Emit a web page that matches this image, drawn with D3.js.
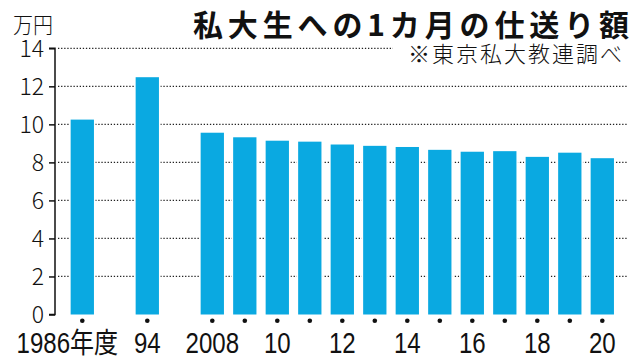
<!DOCTYPE html>
<html><head><meta charset="utf-8">
<script src="https://cdn.jsdelivr.net/npm/d3@7/dist/d3.min.js"></script>
<style>
html,body{margin:0;padding:0;background:#fff;}
svg{display:block;}
</style></head>
<body>
<svg id="chart" width="640" height="364"></svg>
<script>
// ---- data ----
const slots = ["1986","g1","1994","g2","2008","2009","2010","2011","2012","2013","2014","2015","2016","2017","2018","2019","2020"];
const years = ["1986","1994","2008","2009","2010","2011","2012","2013","2014","2015","2016","2017","2018","2019","2020"];
const values = [10.25, 12.48, 9.56, 9.32, 9.14, 9.09, 8.94, 8.87, 8.81, 8.66, 8.56, 8.59, 8.29, 8.51, 8.22];
const xLabels = [["1986","1986年度"],["1994","94"],["2008","2008"],["2010","10"],["2012","12"],["2014","14"],["2016","16"],["2018","18"],["2020","20"]];
const yTicks = [0,2,4,6,8,10,12,14];
const title = "私大生への1カ月の仕送り額";
const source = "※東京私大教連調べ";
const unit = "万円";

const svg = d3.select("#chart");
const barColor = "#0aa9e1";

const x = d3.scaleBand().domain(slots).range([61.45, 623.15]).padding(0.283);
const y = d3.scaleLinear().domain([0,14]).range([314.5, 48.3]);

// gridlines (behind bars)
svg.append("g").selectAll("line").data(yTicks.filter(d=>d>0)).join("line")
  .attr("x1", 58).attr("x2", d => d===14 ? 393 : 627)
  .attr("y1", d=>y(d)).attr("y2", d=>y(d))
  .attr("stroke", "#222").attr("stroke-width", 1.3)
  .attr("stroke-dasharray", "1.3,1.8");

// bars (white halo, then fill)
svg.append("g").selectAll("rect").data(years).join("rect")
  .attr("x", (d)=>x(d)).attr("width", x.bandwidth())
  .attr("y", (d,i)=>y(values[i])).attr("height", (d,i)=>y(0)-y(values[i]))
  .attr("fill", barColor).attr("stroke", "#fff").attr("stroke-width", 3);
svg.append("g").selectAll("rect").data(years).join("rect")
  .attr("x", (d)=>x(d)).attr("width", x.bandwidth())
  .attr("y", (d,i)=>y(values[i])).attr("height", (d,i)=>y(0)-y(values[i]))
  .attr("fill", barColor);

// dots under each bar
svg.append("g").selectAll("circle").data(years).join("circle")
  .attr("cx", d=>x(d)+x.bandwidth()/2).attr("cy", 320.7).attr("r", 2.3).attr("fill", "#111");

// y axis
const yAxis = d3.axisLeft(y).tickValues(yTicks).tickSize(6).tickPadding(5).tickFormat(d3.format("d"));
const ya = svg.append("g").attr("transform", "translate(55,0)").call(yAxis);
ya.select(".domain").attr("d", `M-6,${y(14)}H0V${y(0)}H-6`).attr("stroke", "#111").attr("stroke-width", 1.5).attr("fill","none");
ya.selectAll(".tick line").attr("stroke", "#111").attr("stroke-width", 1.5);
ya.selectAll(".tick text")
  .attr("font-family", "'Noto Sans CJK JP', 'Noto Sans', sans-serif")
  .attr("font-weight", 300).attr("font-size", 23).attr("fill", "#111")
  .attr("dy", "0.36em");

// x labels (condensed)
svg.append("g").selectAll("text").data(xLabels).join("text")
  .attr("transform", d => `translate(${x(d[0]) + x.bandwidth()/2 + (d[1].length > 4 ? -15 : 0)},353) scale(0.83,1)`)
  .attr("text-anchor", "middle")
  .attr("font-family", "'Liberation Sans', 'Noto Sans CJK JP', sans-serif")
  .attr("font-size", 29).attr("fill", "#111")
  .text(d => d[1]);

// unit
svg.append("text").attr("x", 13).attr("y", 33)
  .attr("font-family", "'Noto Sans CJK JP', sans-serif").attr("font-weight", 300)
  .attr("font-size", 22).attr("fill", "#111")
  .attr("textLength", 40).attr("lengthAdjust", "spacingAndGlyphs")
  .text(unit);

// title
svg.append("text").attr("x", 193).attr("y", 36)
  .attr("font-family", "'Noto Sans CJK JP', sans-serif").attr("font-weight", 700)
  .attr("font-size", 30).attr("fill", "#111")
  .attr("textLength", 436).attr("lengthAdjust", "spacing")
  .text(title);

// source
svg.append("text").attr("x", 408).attr("y", 61.5)
  .attr("font-family", "'Noto Sans CJK JP', sans-serif").attr("font-weight", 300)
  .attr("font-size", 22).attr("fill", "#111")
  .attr("textLength", 214).attr("lengthAdjust", "spacing")
  .text(source);
</script>
</body></html>
